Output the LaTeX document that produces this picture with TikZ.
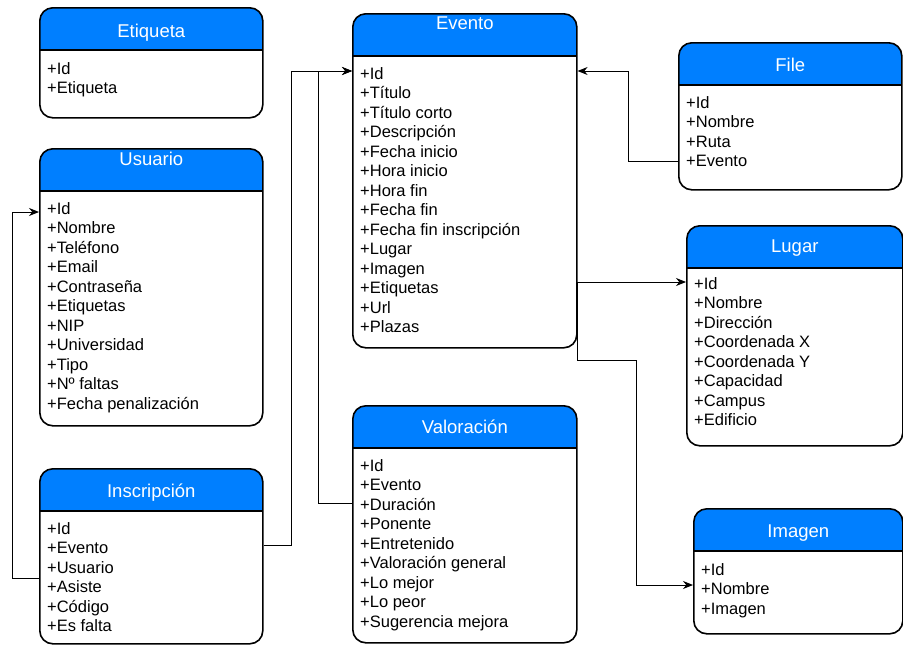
\documentclass[tikz,border=0pt]{standalone}
\usepackage{fontspec}
\setmainfont{Liberation Sans}
\usetikzlibrary{arrows.meta}
\definecolor{headblue}{RGB}{0,127,255}
\begin{document}
\begin{tikzpicture}[x=1pt,y=-1pt,
classbox/.style={draw, line width=1.6pt, rounded corners=13pt, anchor=north west, inner sep=0pt,
path picture={\fill[headblue, sharp corners] (path picture bounding box.north west) rectangle ([yshift=-42pt]path picture bounding box.north east);
\draw[line width=1.6pt, sharp corners] ([yshift=-42pt]path picture bounding box.north west) -- ([yshift=-42pt]path picture bounding box.north east);}},
classtitle/.style={anchor=base, text=white, font=\fontsize{18.5}{20}\selectfont, inner sep=0pt},
attr/.style={anchor=base west, font=\fontsize{16.5}{19.5}\selectfont, inner sep=0pt},
link/.style={line width=1pt, -{Stealth[length=10pt, width=8pt]}}]
\useasboundingbox (0,0) rectangle (903,645);

\node[classbox, minimum width=223pt, minimum height=110pt] (etiqueta) at (39,7) {};
\node[classtitle] (etiqueta-t) at ([yshift=-30pt]etiqueta.north) {Etiqueta};
\foreach \a [count=\i] in {Id,Etiqueta}
\node[attr] (etiqueta-\i) at ([xshift=8pt,yshift={-67pt-19.5pt*(\i-1)}]etiqueta.north west) {+\a};

\node[classbox, minimum width=223pt, minimum height=277pt] (usuario) at (39,148) {};
\node[classtitle] (usuario-t) at ([yshift=-17pt]usuario.north) {Usuario};
\foreach \a [count=\i] in {Id,Nombre,Teléfono,Email,Contraseña,Etiquetas,NIP,Universidad,Tipo,Nº faltas,Fecha penalización}
\node[attr] (usuario-\i) at ([xshift=8pt,yshift={-66pt-19.5pt*(\i-1)}]usuario.north west) {+\a};

\node[classbox, minimum width=223pt, minimum height=175pt] (inscripcion) at (39,468) {};
\node[classtitle] (inscripcion-t) at ([yshift=-29pt]inscripcion.north) {Inscripción};
\foreach \a [count=\i] in {Id,Evento,Usuario,Asiste,Código,Es falta}
\node[attr] (inscripcion-\i) at ([xshift=8pt,yshift={-66pt-19.5pt*(\i-1)}]inscripcion.north west) {+\a};

\node[classbox, minimum width=224pt, minimum height=334pt] (evento) at (352,13) {};
\node[classtitle] (evento-t) at ([yshift=-17pt]evento.north) {Evento};
\foreach \a [count=\i] in {Id,Título,Título corto,Descripción,Fecha inicio,Hora inicio,Hora fin,Fecha fin,Fecha fin inscripción,Lugar,Imagen,Etiquetas,Url,Plazas}
\node[attr] (evento-\i) at ([xshift=8pt,yshift={-66pt-19.5pt*(\i-1)}]evento.north west) {+\a};

\node[classbox, minimum width=224pt, minimum height=237pt] (valoracion) at (352,405) {};
\node[classtitle] (valoracion-t) at ([yshift=-28pt]valoracion.north) {Valoración};
\foreach \a [count=\i] in {Id,Evento,Duración,Ponente,Entretenido,Valoración general,Lo mejor,Lo peor,Sugerencia mejora}
\node[attr] (valoracion-\i) at ([xshift=8pt,yshift={-66pt-19.5pt*(\i-1)}]valoracion.north west) {+\a};

\node[classbox, minimum width=223pt, minimum height=147pt] (file) at (678,42) {};
\node[classtitle] (file-t) at ([yshift=-29pt]file.north) {File};
\foreach \a [count=\i] in {Id,Nombre,Ruta,Evento}
\node[attr] (file-\i) at ([xshift=8pt,yshift={-66pt-19.5pt*(\i-1)}]file.north west) {+\a};

\node[classbox, minimum width=216pt, minimum height=220pt] (lugar) at (686,225) {};
\node[classtitle] (lugar-t) at ([yshift=-27pt]lugar.north) {Lugar};
\foreach \a [count=\i] in {Id,Nombre,Dirección,Coordenada X,Coordenada Y,Capacidad,Campus,Edificio}
\node[attr] (lugar-\i) at ([xshift=8pt,yshift={-64pt-19.5pt*(\i-1)}]lugar.north west) {+\a};

\node[classbox, minimum width=209pt, minimum height=125pt] (imagen) at (693,508) {};
\node[classtitle] (imagen-t) at ([yshift=-29pt]imagen.north) {Imagen};
\foreach \a [count=\i] in {Id,Nombre,Imagen}
\node[attr] (imagen-\i) at ([xshift=8pt,yshift={-67pt-19.5pt*(\i-1)}]imagen.north west) {+\a};

\draw[link] ([yshift=-110pt]inscripcion.north west) -- ++(-27,0) |- ([yshift=-64pt]usuario.north west);
\draw[link] ([yshift=-77pt]inscripcion.north east) -- ++(28,0) |- ([yshift=-58pt]evento.north west);
\draw[link] ([yshift=-98pt]valoracion.north west) -- ++(-34,0) |- ([yshift=-58pt]evento.north west);
\draw[link] ([yshift=-119pt]file.north west) -- ++(-50,0) |- ([yshift=-58pt]evento.north east);
\draw[link] ([yshift=-269pt]evento.north east) -- ([yshift=-57pt]lugar.north west);
\draw[link] ([yshift=-269pt]evento.north east) |- ++(59,78) |- ([yshift=-77pt]imagen.north west);
\end{tikzpicture}
\end{document}
